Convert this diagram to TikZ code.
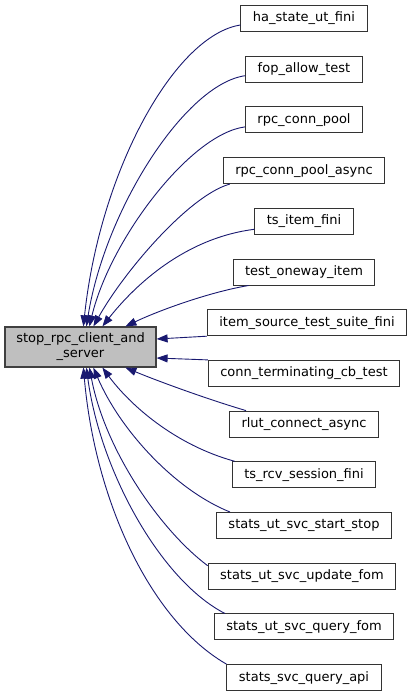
\documentclass[tikz,border=0pt]{standalone}
\usepackage{fontspec}
\setmainfont{DejaVu Sans}
\usetikzlibrary{arrows.meta}
\definecolor{edgeblue}{RGB}{25,25,112}
\definecolor{mainfill}{RGB}{191,191,191}
\tikzset{
	caller/.style={draw=black!80, fill=white, line width=1pt, minimum height=26pt, inner xsep=12pt, inner ysep=0pt, font=\fontsize{13}{15}\selectfont},
	callee/.style={draw=black!75, fill=mainfill, line width=1.2pt, minimum height=40pt, minimum width=151pt, inner xsep=0pt, inner ysep=0pt, align=center, font=\fontsize{13}{15}\selectfont},
	edge/.style={draw=edgeblue, line width=0.9pt, -{Triangle[length=11pt,width=8pt]}}
}
\begin{document}
\begin{tikzpicture}[x=1pt, y=-1pt]
			\useasboundingbox (0,0) rectangle (409,696);
			\node[callee] (main) at (80.5,347) {stop\_rpc\_client\_and\\\_server};
			\node[caller] (ha) at (304,18.5) {ha\_state\_ut\_fini};
			\node[caller] (fop) at (304,69.2) {fop\_allow\_test};
			\node[caller] (rpc) at (304,119.9) {rpc\_conn\_pool};
			\node[caller] (async) at (304,170.6) {rpc\_conn\_pool\_async};
			\node[caller] (tsitem) at (304,221.3) {ts\_item\_fini};
			\node[caller] (oneway) at (304,272) {test\_oneway\_item};
			\node[caller] (itemsrc) at (307,322.7) {item\_source\_test\_suite\_fini};
			\node[caller] (connterm) at (304,373.4) {conn\_terminating\_cb\_test};
			\node[caller] (rlut) at (304,424.1) {rlut\_connect\_async};
			\node[caller] (tsrcv) at (304,474.8) {ts\_rcv\_session\_fini};
			\node[caller] (startstop) at (304,525.5) {stats\_ut\_svc\_start\_stop};
			\node[caller] (updfom) at (302,576.2) {stats\_ut\_svc\_update\_fom};
			\node[caller] (qfom) at (304,626.9) {stats\_ut\_svc\_query\_fom};
			\node[caller] (qapi) at (304,677.6) {stats\_svc\_query\_api};
			\draw[edge] ([yshift=-6.5pt]ha.west) .. controls (175,35) and (100,170) .. ([xshift=79pt]main.north west);
			\draw[edge] ([yshift=-6.5pt]fop.west) .. controls (185,84) and (105,210) .. ([xshift=82pt]main.north west);
			\draw[edge] ([yshift=-7pt]rpc.west) .. controls (190,134) and (110,240) .. ([xshift=85pt]main.north west);
			\draw[edge] ([xshift=7pt]async.south west) .. controls (190,195) and (125,270) .. ([xshift=89pt]main.north west);
			\draw[edge] ([yshift=-8pt]tsitem.west) .. controls (185,238) and (135,285) .. ([xshift=98pt]main.north west);
			\draw[edge] ([xshift=16pt]oneway.south west) .. controls (210,292) and (160,310) .. ([xshift=121pt]main.north west);
			\draw[edge] (itemsrc.south west) -- ([yshift=8pt]main.east);
			\draw[edge] (connterm.north west) -- ([yshift=-11pt]main.east);
			\draw[edge] ([xshift=17pt]rlut.north west) .. controls (210,400) and (160,382) .. ([xshift=121pt]main.south west);
			\draw[edge] ([xshift=3pt]tsrcv.north west) .. controls (175,445) and (130,405) .. ([xshift=98pt]main.south west);
			\draw[edge] ([xshift=14pt]startstop.north west) .. controls (175,490) and (120,430) .. ([xshift=89pt]main.south west);
			\draw[edge] ([yshift=-3pt]updfom.north west) .. controls (160,530) and (105,450) .. ([xshift=85pt]main.south west);
			\draw[edge] ([xshift=11pt]qfom.north west) .. controls (160,580) and (100,470) .. ([xshift=82pt]main.south west);
			\draw[edge] (qapi.north west) .. controls (150,620) and (95,500) .. ([xshift=79pt]main.south west);
		\end{tikzpicture}
\end{document}
